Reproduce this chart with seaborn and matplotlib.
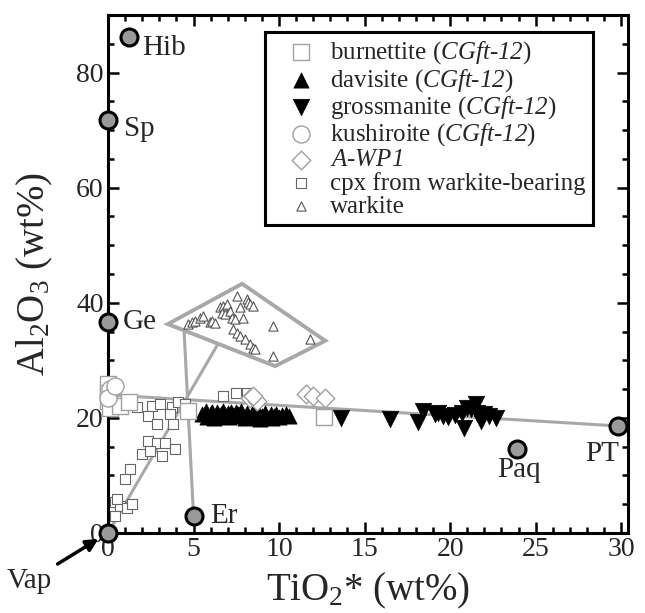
import numpy as np
import pandas as pd
import matplotlib
matplotlib.use("Agg")
import matplotlib.pyplot as plt
from matplotlib.ticker import MultipleLocator
import seaborn as sns

# ---------------- data ----------------
burn_x = [0.0, 0.0, 0.1, 0.7, 1.2, 0.0, 4.7, 12.6]
burn_y = [25.9, 23.0, 21.8, 22.1, 22.7, 24.4, 21.2, 20.1]

dav_x = [5.5, 5.7, 5.8, 6.0, 6.1, 6.3, 6.4, 6.6, 6.7, 6.9, 7.0, 7.2, 7.3, 7.5, 7.6, 7.8, 7.9,
         8.1, 8.2, 8.4, 8.5, 8.7, 8.8, 9.0, 9.2, 9.3, 9.5, 9.7, 9.8, 10.0, 10.2, 10.4, 10.6,
         6.2, 7.1, 8.0, 8.9, 9.6]
dav_y = [20.6, 21.2, 20.2, 20.9, 21.1, 20.4, 21.0, 20.7, 21.2, 20.3, 20.9, 21.1, 20.5, 21.0,
         20.6, 21.2, 20.3, 20.8, 20.1, 20.6, 20.9, 20.2, 20.7, 20.4, 20.8, 20.1, 20.6, 20.3,
         20.7, 20.2, 20.5, 20.6, 20.4, 20.0, 20.1, 19.9, 19.8, 20.0]

gro_x = [13.6, 16.5, 18.1, 18.4, 19.1, 19.3, 19.6, 19.9, 20.3, 20.7, 20.8, 21.0, 21.2, 21.5,
         21.6, 21.8, 22.0, 22.3, 22.7]
gro_y = [20.0, 19.8, 19.2, 21.2, 20.7, 20.9, 20.3, 20.1, 20.5, 20.9, 18.3, 21.8, 21.5, 22.4,
         20.9, 19.5, 20.6, 20.3, 20.0]

kus_x = [0.1, 0.0, 0.4]
kus_y = [25.0, 23.5, 25.6]

awp_x = [8.3, 8.7, 8.45, 11.6, 12.0, 12.7]
awp_y = [23.5, 23.0, 23.8, 24.1, 23.8, 23.5]

cpx_x = [2.55, 3.04, 3.72, 4.11, 4.50, 2.36, 2.85, 3.63, 3.82, 2.36, 2.85, 3.33, 3.92, 1.97,
         2.46, 3.14, 1.29, 0.99, 0.41, 0.70, 1.09, 1.39, 0.41, 0.50, 6.74, 7.50, 8.10, 1.70]
cpx_y = [22.1, 22.4, 21.9, 22.7, 22.4, 20.3, 18.9, 20.6, 19.0, 16.0, 15.7, 15.7, 14.6, 13.7,
         14.3, 13.4, 11.1, 9.3, 5.3, 4.7, 4.4, 5.0, 3.0, 5.9, 23.8, 24.4, 24.4, 21.9]

wark_x = [4.70, 4.89, 5.09, 5.38, 5.57, 5.96, 6.06, 6.26, 6.55, 6.74, 6.94, 6.65, 6.84, 7.13,
          7.23, 7.43, 7.53, 7.72, 7.91, 8.11, 8.21, 8.30, 8.50, 7.33, 7.53, 7.72, 8.01, 8.30,
          8.50, 8.60, 9.67, 9.67, 11.81]
wark_y = [36.3, 36.6, 36.9, 37.4, 37.7, 36.6, 36.9, 36.4, 39.2, 39.5, 39.8, 38.3, 38.0, 38.6,
          37.4, 37.2, 41.2, 39.2, 37.4, 40.6, 40.1, 39.8, 39.5, 35.4, 34.8, 34.3, 33.7, 32.8,
          32.2, 31.9, 36.0, 30.8, 33.7]

# end members
em_names = ["Hib", "Sp", "Ge", "Er", "Vap", "Paq", "PT"]
em_x = [1.2, 0.0, 0.0, 5.0, 0.0, 23.9, 29.8]
em_y = [86.1, 71.8, 36.7, 3.0, 0.0, 14.6, 18.6]

# tie lines and warkite field
tie1_x = [0.0, 29.8]
tie1_y = [24.0, 18.6]
tie2_x = [0.0, 6.4]
tie2_y = [0.0, 32.7]
tie3_x = [5.0, 4.45]
tie3_y = [3.0, 35.0]
poly_x = [3.5, 7.84, 12.7, 9.77, 3.5]
poly_y = [36.3, 43.3, 33.4, 29.0, 36.3]

# ---------------- style ----------------
sns.set_style("ticks")
plt.rcParams["font.family"] = ["Liberation Serif", "DejaVu Serif"]
plt.rcParams["mathtext.fontset"] = "custom"
plt.rcParams["mathtext.rm"] = "Liberation Serif"
plt.rcParams["mathtext.it"] = "Liberation Serif:italic"
plt.rcParams["mathtext.sf"] = "Liberation Serif:italic"
plt.rcParams["mathtext.default"] = "regular"

fig = plt.figure(figsize=(6.45, 6.13), dpi=100)
ax = fig.add_axes([108/645, 80/613, 520/645, 518/613])

line_c = "#a8a8a8"
ax.plot(tie1_x, tie1_y, color=line_c, lw=2.2, zorder=1)
ax.plot(tie2_x, tie2_y, color=line_c, lw=2.2, zorder=1)
ax.plot(tie3_x, tie3_y, color=line_c, lw=2.2, zorder=1)
ax.fill(poly_x, poly_y, facecolor="none", edgecolor=line_c, lw=2.8, zorder=1)

L_burn = r"burnettite ($\mathsf{CGft}$-$\mathsf{12}$)"
L_dav = r"davisite ($\mathsf{CGft}$-$\mathsf{12}$)"
L_gro = r"grossmanite ($\mathsf{CGft}$-$\mathsf{12}$)"
L_kus = r"kushiroite ($\mathsf{CGft}$-$\mathsf{12}$)"
L_awp = r"$\mathsf{A}$-$\mathsf{WP1}$"
L_cpx = "cpx from warkite-bearing"
L_wark = "warkite"

sns.scatterplot(x=cpx_x, y=cpx_y, marker="s", s=44, color="white", edgecolor="#666666",
                linewidth=0.8, ax=ax, legend=False, zorder=3, label=L_cpx)
sns.scatterplot(x=wark_x, y=wark_y, marker="^", s=44, color="white", edgecolor="#555555",
                linewidth=0.8, ax=ax, legend=False, zorder=3, label=L_wark)
sns.scatterplot(x=dav_x, y=dav_y, marker="^", s=120, color="black", edgecolor="black",
                linewidth=0.5, ax=ax, legend=False, zorder=4, label=L_dav)
sns.scatterplot(x=gro_x, y=gro_y, marker="v", s=140, color="black", edgecolor="black",
                linewidth=0.5, ax=ax, legend=False, zorder=4, label=L_gro)
sns.scatterplot(x=burn_x, y=burn_y, marker="s", s=140, color="white", edgecolor="#a0a0a0",
                linewidth=1.0, ax=ax, legend=False, zorder=5, clip_on=False, label=L_burn)
sns.scatterplot(x=kus_x, y=kus_y, marker="o", s=150, color="white", edgecolor="#a0a0a0",
                linewidth=1.0, ax=ax, legend=False, zorder=5, clip_on=False, label=L_kus)
sns.scatterplot(x=awp_x, y=awp_y, marker="D", s=90, color="white", edgecolor="#a0a0a0",
                linewidth=1.0, ax=ax, legend=False, zorder=5, label=L_awp)

sns.scatterplot(x=em_x, y=em_y, marker="o", s=150, color="#9a9a9a", edgecolor="black",
                linewidth=2.2, ax=ax, legend=False, zorder=6, clip_on=False)

lab_fs = 21
ax.text(2.0, 84.3, "Hib", fontsize=lab_fs, ha="left", va="center")
ax.text(0.95, 70.2, "Sp", fontsize=lab_fs, ha="left", va="center")
ax.text(0.85, 36.7, "Ge", fontsize=lab_fs, ha="left", va="center")
ax.text(5.95, 3.0, "Er", fontsize=lab_fs, ha="left", va="center")
ax.text(24.0, 11.0, "Paq", fontsize=lab_fs, ha="center", va="center")
ax.text(28.9, 13.7, "PT", fontsize=lab_fs, ha="center", va="center")
ax.annotate("Vap", xy=(0, 0), xytext=(-4.6, -8.4), fontsize=lab_fs, ha="center", va="center",
            annotation_clip=False,
            arrowprops=dict(arrowstyle="-|>", color="black", lw=2.5, mutation_scale=18,
                            shrinkA=2, shrinkB=8))

ax.set_xlim(0, 30.4)
ax.set_ylim(0, 90)
ax.xaxis.set_major_locator(MultipleLocator(5))
ax.xaxis.set_minor_locator(MultipleLocator(1))
ax.yaxis.set_major_locator(MultipleLocator(20))
ax.yaxis.set_minor_locator(MultipleLocator(5))
ax.tick_params(which="both", direction="in", top=True, right=True, width=1.8, color="black")
ax.tick_params(which="major", length=8, labelsize=20, pad=3)
ax.tick_params(which="minor", length=4.5)
for sp in ax.spines.values():
    sp.set_linewidth(2.2)
    sp.set_color("black")

ax.set_xlabel("TiO$_2$* (wt%)", fontsize=28, labelpad=6)
ax.set_ylabel("Al$_2$O$_3$ (wt%)", fontsize=28, labelpad=15)

handles, labels = ax.get_legend_handles_labels()
order = [L_burn, L_dav, L_gro, L_kus, L_awp, L_cpx, L_wark]
hmap = dict(zip(labels, handles))
leg = ax.legend([hmap[l] for l in order], order, loc="upper left",
                bbox_to_anchor=(0.302, 0.967), borderaxespad=0, fontsize=18,
                frameon=True, fancybox=False, edgecolor="black", framealpha=1,
                labelspacing=0.02, handletextpad=0.0, handlelength=2.3, borderpad=0.3,
                scatterpoints=1)
leg.get_frame().set_linewidth(2.2)
leg.set_zorder(10)

fig.savefig("out.png", dpi=100)
